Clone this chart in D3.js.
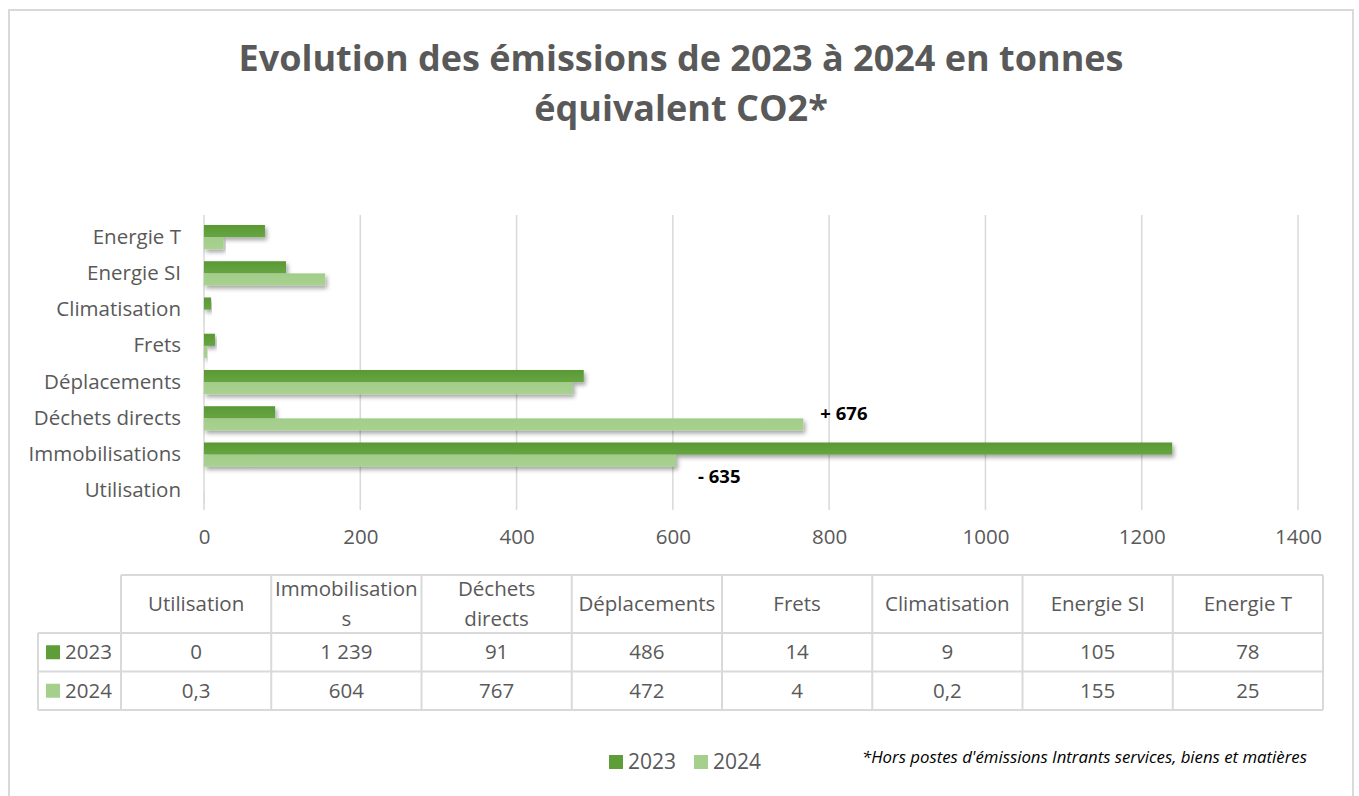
<!DOCTYPE html>
<html>
<head>
<meta charset="utf-8">
<script src="https://cdn.jsdelivr.net/npm/d3@7"></script>
<style>
  body { margin: 0; background: #fff; }
  svg { display: block; font-family: "Open Sans", Lato, sans-serif; }
</style>
</head>
<body>
<svg id="chart" width="1359" height="796"></svg>
<script>
// data, in table order (bottom of the chart first)
var categories = ["Utilisation", "Immobilisations", "Déchets directs", "Déplacements", "Frets", "Climatisation", "Energie SI", "Energie T"];
var years = ["2023", "2024"];
var values2023 = [0, 1239, 91, 486, 14, 9, 105, 78];
var values2024 = [0.3, 604, 767, 472, 4, 0.2, 155, 25];
var labels2023 = ["0", "1 239", "91", "486", "14", "9", "105", "78"];
var labels2024 = ["0,3", "604", "767", "472", "4", "0,2", "155", "25"];
var xTicks = [0, 200, 400, 600, 800, 1000, 1200, 1400];
var annotations = [
    { category: "Déchets directs", text: "+ 676" },
    { category: "Immobilisations", text: "- 635" }
];

var colors = { "2023": "#5e9d38", "2024": "#a5cf8c" };
var grey = "#595959";
var font = "'Open Sans', Lato, sans-serif";
var fs = "20.5px";

var svg = d3.select("#chart");

// shadow + gradients
var defs = svg.append("defs");
var shadow = defs.append("filter").attr("id", "shadow")
    .attr("x", "-5%").attr("y", "-30%").attr("width", "115%").attr("height", "190%");
shadow.append("feDropShadow")
    .attr("dx", 2).attr("dy", 3).attr("stdDeviation", 2)
    .attr("flood-color", "#000").attr("flood-opacity", 0.35);

var g1 = defs.append("linearGradient").attr("id", "grad2023").attr("x1", 0).attr("y1", 0).attr("x2", 0).attr("y2", 1);
g1.append("stop").attr("offset", "0%").attr("stop-color", "#5a9834");
g1.append("stop").attr("offset", "100%").attr("stop-color", "#66a642");
var g2 = defs.append("linearGradient").attr("id", "grad2024").attr("x1", 0).attr("y1", 0).attr("x2", 0).attr("y2", 1);
g2.append("stop").attr("offset", "0%").attr("stop-color", "#a2cd89");
g2.append("stop").attr("offset", "100%").attr("stop-color", "#a9d190");

// outer frame
svg.append("rect")
    .attr("x", 9).attr("y", 10)
    .attr("width", 1344).attr("height", 800)
    .attr("fill", "none").attr("stroke", "#d9d9d9").attr("stroke-width", 2);

// title
var title = svg.append("text")
    .attr("text-anchor", "middle")
    .attr("fill", grey)
    .style("font-weight", "700")
    .style("font-size", "36px");
title.append("tspan").attr("x", 681).attr("y", 71).text("Evolution des émissions de 2023 à 2024 en tonnes");
title.append("tspan").attr("x", 681).attr("y", 121).text("équivalent CO2*");

// scales
var x = d3.scaleLinear().domain([0, 1400]).range([204, 1298]);
var y = d3.scaleBand()
    .domain(categories.slice().reverse())
    .range([219, 509])
    .paddingInner(0.33)
    .paddingOuter(0.165);
var ySub = d3.scaleBand().domain(years).range([0, y.bandwidth()]);

// grid
svg.append("g")
    .selectAll("line")
    .data(xTicks)
    .enter().append("line")
    .attr("x1", function (d) { return x(d); })
    .attr("x2", function (d) { return x(d); })
    .attr("y1", 215)
    .attr("y2", 510)
    .attr("stroke", "#d9d9d9")
    .attr("stroke-width", 1.5);

// x axis labels
var xAxis = svg.append("g")
    .attr("transform", "translate(0,510)")
    .call(d3.axisBottom(x).tickValues(xTicks).tickFormat(d3.format("d")).tickSize(0).tickPadding(19));
xAxis.select(".domain").remove();
xAxis.selectAll("text")
    .attr("fill", grey)
    .style("font-size", fs)
    .style("font-family", font);

// y axis labels
var yAxis = svg.append("g")
    .attr("transform", "translate(204,0)")
    .call(d3.axisLeft(y).tickSize(0).tickPadding(23));
yAxis.select(".domain").remove();
yAxis.selectAll("text")
    .attr("fill", grey)
    .style("font-size", fs)
    .style("font-family", font);

// bars
var rows = categories.map(function (c, i) {
    return { category: c, values: [values2023[i], values2024[i]] };
});
var groups = svg.append("g")
    .selectAll("g")
    .data(rows)
    .enter().append("g")
    .attr("transform", function (d) { return "translate(0," + y(d.category) + ")"; });

groups.selectAll("rect")
    .data(function (d) { return years.map(function (yr, k) { return { year: yr, value: d.values[k] }; }); })
    .enter().append("rect")
    .attr("x", x(0))
    .attr("y", function (d) { return ySub(d.year); })
    .attr("height", ySub.bandwidth())
    .attr("width", function (d) { return x(d.value) - x(0); })
    .attr("fill", function (d) { return "url(#grad" + d.year + ")"; })
    .attr("filter", "url(#shadow)");

// change annotations, next to the 2024 bar
svg.append("g")
    .selectAll("text")
    .data(annotations)
    .enter().append("text")
    .attr("x", function (d) {
        var i = categories.indexOf(d.category);
        return x(values2024[i]) + (values2024[i] > values2023[i] ? 17 : 22);
    })
    .attr("y", function (d) {
        var i = categories.indexOf(d.category);
        return values2024[i] > values2023[i] ? y(d.category) + ySub("2024") - 5 : y(d.category) + y.bandwidth() + 10;
    })
    .attr("dy", "0.35em")
    .attr("fill", "#000")
    .style("font-weight", "700")
    .style("font-size", "18.5px")
    .text(function (d) { return d.text; });

// data table
var tLeft = 121, tRight = 1323, legendLeft = 38;
var colW = (tRight - tLeft) / categories.length;
var rowTop = 575, headH = 58, rowH = 38.5;
var table = svg.append("g");
var lineColor = "#d9d9d9";

// horizontal lines
table.append("line").attr("x1", tLeft).attr("x2", tRight).attr("y1", rowTop).attr("y2", rowTop);
[0, 1, 2].forEach(function (k) {
    table.append("line")
        .attr("x1", legendLeft).attr("x2", tRight)
        .attr("y1", rowTop + headH + k * rowH).attr("y2", rowTop + headH + k * rowH);
});
// vertical lines
table.append("line").attr("x1", legendLeft).attr("x2", legendLeft)
    .attr("y1", rowTop + headH).attr("y2", rowTop + headH + 2 * rowH);
d3.range(categories.length + 1).forEach(function (k) {
    table.append("line")
        .attr("x1", tLeft + k * colW).attr("x2", tLeft + k * colW)
        .attr("y1", rowTop).attr("y2", rowTop + headH + 2 * rowH);
});
table.selectAll("line").attr("stroke", lineColor).attr("stroke-width", 2);

// header cells, wrapped like Excel does
var header = table.selectAll(".head")
    .data(categories)
    .enter().append("text")
    .attr("class", "head")
    .attr("text-anchor", "middle")
    .attr("fill", grey)
    .style("font-size", fs);

header.each(function (d, i) {
    var el = d3.select(this);
    var cx = tLeft + colW * (i + 0.5);
    var maxW = colW - 4;
    var lines = [];
    var words = d.split(" ");
    var cur = "";
    var probe = el.append("tspan");
    function fits(s) { probe.text(s); return probe.node().getComputedTextLength() <= maxW; }
    words.forEach(function (w) {
        var tryS = cur ? cur + " " + w : w;
        if (fits(tryS)) { cur = tryS; return; }
        if (cur) { lines.push(cur); cur = ""; }
        // break a long word by characters
        var part = "";
        w.split("").forEach(function (ch) {
            if (fits(part + ch)) { part += ch; } else { lines.push(part); part = ch; }
        });
        cur = part;
    });
    if (cur) lines.push(cur);
    probe.remove();
    var midY = rowTop + headH / 2;
    var lh = 30;
    lines.forEach(function (ln, k) {
        el.append("tspan")
            .attr("x", cx)
            .attr("y", midY + (k - (lines.length - 1) / 2) * lh)
            .attr("dy", "0.35em")
            .text(ln);
    });
});

// value rows
[labels2023, labels2024].forEach(function (labels, r) {
    var cy = rowTop + headH + rowH * (r + 0.5);
    table.selectAll(".val" + r)
        .data(labels)
        .enter().append("text")
        .attr("class", "val" + r)
        .attr("x", function (d, i) { return tLeft + colW * (i + 0.5); })
        .attr("y", cy)
        .attr("dy", "0.35em")
        .attr("text-anchor", "middle")
        .attr("fill", grey)
        .style("font-size", fs)
        .text(function (d) { return d; });
    table.append("rect")
        .attr("x", 46).attr("y", cy - 7)
        .attr("width", 14).attr("height", 14)
        .attr("fill", colors[years[r]]);
    table.append("text")
        .attr("x", 65).attr("y", cy).attr("dy", "0.35em")
        .attr("fill", grey)
        .style("font-size", fs)
        .text(years[r]);
});

// legend
var legend = svg.append("g")
    .selectAll("g")
    .data(years)
    .enter().append("g")
    .attr("transform", function (d, i) { return "translate(" + (609 + i * 85) + ",762)"; });
legend.append("rect")
    .attr("x", 0).attr("y", -7)
    .attr("width", 14).attr("height", 14)
    .attr("fill", function (d) { return colors[d]; });
legend.append("text")
    .attr("x", 19).attr("dy", "0.35em")
    .attr("fill", grey)
    .style("font-size", "21px")
    .text(function (d) { return d; });

// footnote
svg.append("text")
    .attr("x", 862).attr("y", 757).attr("dy", "0.35em")
    .attr("fill", "#000")
    .style("font-style", "italic")
    .style("font-size", "16.8px")
    .text("*Hors postes d'émissions Intrants services, biens et matières");
</script>
</body>
</html>
